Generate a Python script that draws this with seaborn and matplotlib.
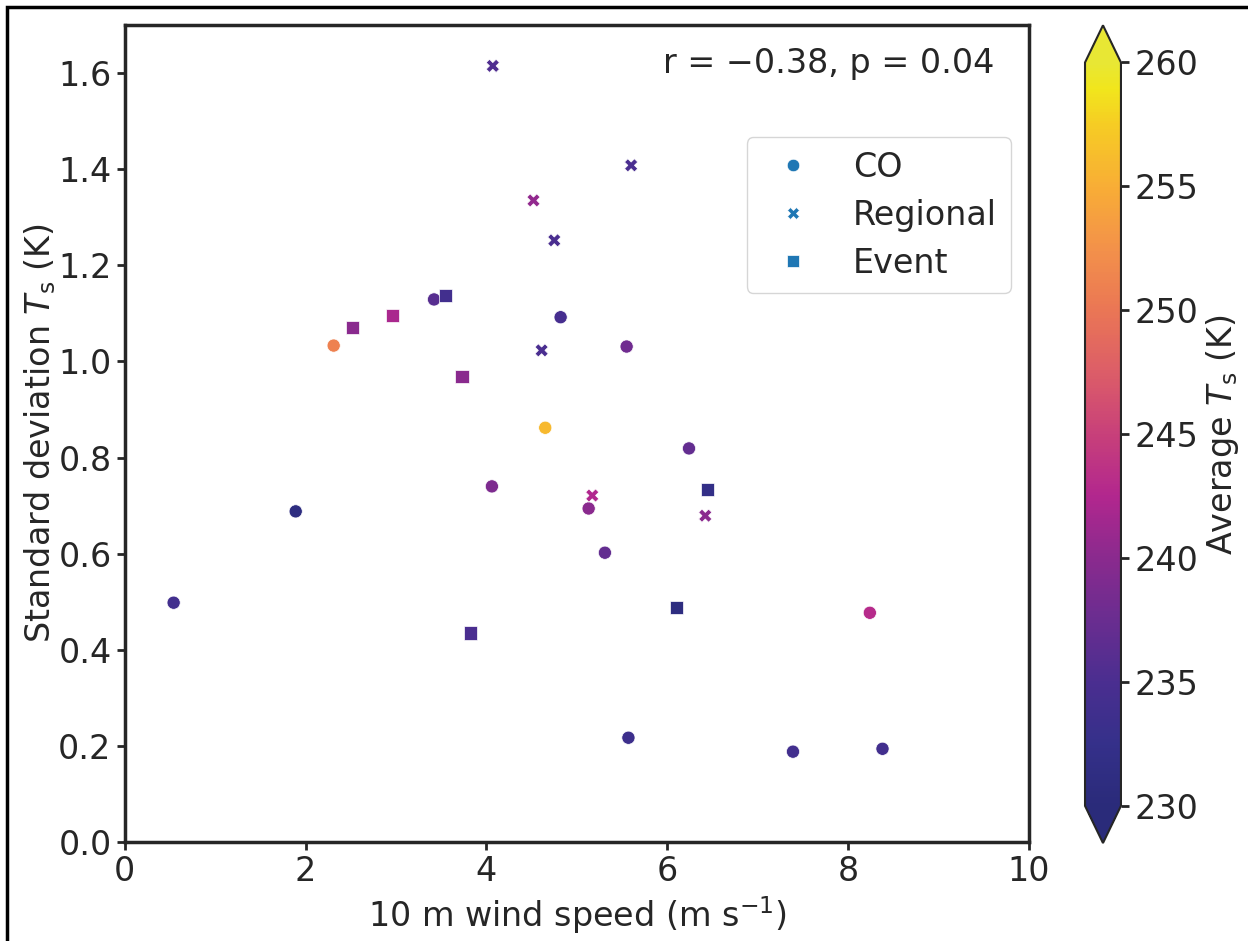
import numpy as np
import pandas as pd
import seaborn as sns
import matplotlib.pyplot as plt
import matplotlib as mpl
from matplotlib.lines import Line2D
from matplotlib.patches import Rectangle

# wind speed (m/s), std of Ts (K), mean Ts (K) for each site type
co_wind = [0.54, 1.89, 2.31, 3.42, 4.82, 4.65, 5.55, 4.06, 5.13, 5.31, 6.24, 5.57, 7.39, 8.38, 8.24]
co_std = [0.498, 0.688, 1.033, 1.129, 1.092, 0.862, 1.031, 0.740, 0.694, 0.602, 0.819, 0.217, 0.188, 0.194, 0.477]
co_ts = [234.0, 231.0, 251.0, 236.0, 234.5, 256.0, 238.0, 239.0, 240.0, 237.0, 237.0, 233.5, 234.0, 234.0, 243.0]

reg_wind = [4.07, 5.60, 4.52, 4.75, 4.61, 5.17, 6.42]
reg_std = [1.615, 1.408, 1.335, 1.252, 1.023, 0.721, 0.679]
reg_ts = [235.5, 235.0, 240.5, 235.0, 235.0, 242.5, 240.0]

ev_wind = [3.55, 2.52, 2.96, 3.73, 6.44, 6.10, 3.82]
ev_std = [1.138, 1.071, 1.096, 0.969, 0.733, 0.488, 0.435]
ev_ts = [234.0, 240.0, 242.0, 240.0, 232.0, 231.0, 235.0]

types = ['CO', 'Regional', 'Event']
r_text = 'r = \u22120.38, p = 0.04'

df = pd.concat([
    pd.DataFrame({'wind': co_wind, 'std': co_std, 'ts': co_ts, 'type': 'CO'}),
    pd.DataFrame({'wind': reg_wind, 'std': reg_std, 'ts': reg_ts, 'type': 'Regional'}),
    pd.DataFrame({'wind': ev_wind, 'std': ev_std, 'ts': ev_ts, 'type': 'Event'}),
], ignore_index=True)

sns.set_theme(style='ticks')
plt.rcParams['font.family'] = ['DejaVu Sans']
plt.rcParams['mathtext.fontset'] = 'dejavusans'

# plasma-like map, as printed in the reference
cmap_pts = [(0.0, '#2a2b7a'), (0.083, '#35308a'), (0.167, '#4b2e90'), (0.25, '#6a2d90'),
            (0.333, '#8a2a8e'), (0.417, '#b2278e'), (0.5, '#c8407a'), (0.583, '#dc5d68'),
            (0.667, '#ea7655'), (0.75, '#f3914a'), (0.833, '#f8ad36'), (0.917, '#f6cc24'),
            (0.967, '#f1e61c'), (1.0, '#e8e734')]
cmap = mpl.colors.LinearSegmentedColormap.from_list('plasma_print', cmap_pts)
cmap.set_under('#2a2b7a')
cmap.set_over('#e8e734')

fs = 24
fig = plt.figure(figsize=(12.48, 9.41), dpi=100)
ax = fig.add_axes([0.100, 0.1052, 0.7245, 0.8682])
cax = fig.add_axes([0.8694, 0.1041, 0.0288, 0.869])

norm = mpl.colors.Normalize(vmin=230, vmax=260)
markers = {'CO': 'o', 'Regional': 'X', 'Event': 's'}

sns.scatterplot(data=df, x='wind', y='std', hue='ts', style='type', palette=cmap,
                hue_norm=norm, markers=markers, s=90, linewidth=0.5, edgecolor='white',
                legend=False, ax=ax)

ax.set_xlim(0, 10)
ax.set_ylim(0, 1.7)
ax.set_xticks([0, 2, 4, 6, 8, 10])
yt = np.arange(0, 1.61, 0.2)
ax.set_yticks(yt)
ax.set_yticklabels([f'{v:.1f}' for v in yt])
ax.tick_params(labelsize=fs, width=2, length=6, colors='#262626')
for sp in ax.spines.values():
    sp.set_linewidth(2.5)
    sp.set_color('#262626')
ax.set_xlabel('10 m wind speed (m s$^{-1}$)', fontsize=fs, color='#262626', labelpad=4)
ax.set_ylabel('Standard deviation $T_\\mathrm{s}$ (K)', fontsize=fs, color='#262626', labelpad=0)

ax.text(0.962, 0.953, r_text, transform=ax.transAxes, ha='right', va='center',
        fontsize=fs, color='#262626')

handles = [Line2D([], [], marker=markers[t], linestyle='', color='#1f77b4',
                  markeredgecolor='white', markeredgewidth=0.5, markersize=9) for t in types]
leg = ax.legend(handles, types, loc='upper right', bbox_to_anchor=(0.998, 0.883),
                fontsize=fs, frameon=True, labelspacing=0.45, borderpad=0.4)
for t in leg.get_texts():
    t.set_color('#262626')

sm = mpl.cm.ScalarMappable(norm=norm, cmap=cmap)
cb = fig.colorbar(sm, cax=cax, extend='both')
cb.set_ticks([230, 235, 240, 245, 250, 255, 260])
cb.ax.tick_params(labelsize=fs, width=2, length=6, colors='#262626')
cb.outline.set_linewidth(1.5)
cb.outline.set_edgecolor('#262626')
cb.set_label('Average $T_\\mathrm{s}$ (K)', fontsize=fs, color='#262626')

fig.patches.append(Rectangle((0.0056, -0.1), 1.2, 1.0926, transform=fig.transFigure,
                             fill=False, edgecolor='black', linewidth=2.5))

fig.savefig('out.png', dpi=100)
